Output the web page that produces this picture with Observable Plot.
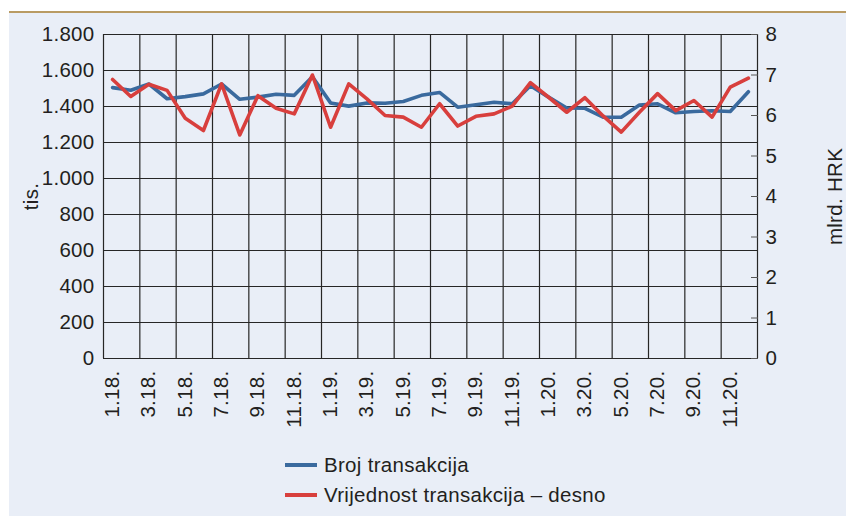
<!DOCTYPE html>
<html>
<head>
<meta charset="utf-8">
<script src="https://cdn.jsdelivr.net/npm/d3@7"></script>
<script src="https://cdn.jsdelivr.net/npm/@observablehq/plot@0.6"></script>
<style>
  html, body { margin: 0; padding: 0; background: #ffffff; }
  body { width: 846px; height: 516px; overflow: hidden; position: relative; font-family: "Liberation Sans", Arial, sans-serif; }
  #box { position: absolute; left: 9px; top: 11px; width: 837px; height: 505px; border-top: 2px solid #b99b63; background: #e9eef7; overflow: hidden; }
  #chart { position: absolute; left: 0; top: 0; }
  #legend { position: absolute; left: 276px; top: 437px; font-size: 20.5px; color: #231f20; letter-spacing: 0.3px; }
  .item { display: flex; align-items: center; height: 30px; }
  .swatch { width: 32px; height: 3.5px; margin-right: 7px; }
</style>
</head>
<body>
<div id="box">
  <div id="chart"></div>
  <div id="legend"></div>
</div>
<script>
const months = [
  "1.18.","2.18.","3.18.","4.18.","5.18.","6.18.","7.18.","8.18.","9.18.","10.18.","11.18.","12.18.",
  "1.19.","2.19.","3.19.","4.19.","5.19.","6.19.","7.19.","8.19.","9.19.","10.19.","11.19.","12.19.",
  "1.20.","2.20.","3.20.","4.20.","5.20.","6.20.","7.20.","8.20.","9.20.","10.20.","11.20.","12.20."
];
// Broj transakcija (tis.) - left axis
const brojTransakcija = [
  1505,1490,1525,1443,1455,1470,1525,1440,1452,1468,1462,1565,
  1420,1402,1420,1418,1428,1462,1478,1396,1410,1424,1415,1515,
  1452,1392,1390,1341,1340,1408,1415,1365,1372,1376,1372,1482
];
// Vrijednost transakcija (mlrd. HRK) - right axis
const vrijednostTransakcija = [
  6.89,6.47,6.77,6.62,5.93,5.63,6.78,5.52,6.49,6.18,6.04,7.00,
  5.71,6.78,6.41,6.00,5.96,5.71,6.29,5.74,5.98,6.04,6.23,6.81,
  6.45,6.08,6.44,5.99,5.59,6.08,6.54,6.12,6.37,5.96,6.70,6.92
];
const leftTicks = [0,200,400,600,800,1000,1200,1400,1600,1800];
const rightTicks = [0,1,2,3,4,5,6,7,8];
const seriesNames = ["Broj transakcija", "Vrijednost transakcija \u2013 desno"];
const seriesColors = ["#3a6a9e", "#d83f3d"];

const leftMax = 1800, rightMax = 8;
const k = leftMax / rightMax;
const rows = months.map((m, i) => ({i, m, broj: brojTransakcija[i], vrij: vrijednostTransakcija[i]}));
const fmtThousands = d => d3.format(",")(d).replace(/,/g, ".");
const gridColor = "#262626";

const chart = Plot.plot({
  width: 837,
  height: 440,
  marginLeft: 94,
  marginRight: 89,
  marginTop: 21,
  marginBottom: 95,
  style: {background: "transparent", fontFamily: "'Liberation Sans', Arial, sans-serif", fontSize: "20.5px", color: "#231f20", letterSpacing: "0.3px", overflow: "visible"},
  x: {domain: [-0.5, months.length - 0.5]},
  y: {domain: [0, leftMax]},
  marks: [
    Plot.gridY(leftTicks, {stroke: gridColor, strokeOpacity: 1, strokeWidth: 1.2}),
    Plot.gridX(d3.range(-0.5, months.length, 2), {stroke: gridColor, strokeOpacity: 1, strokeWidth: 1.2}),
    Plot.axisY(leftTicks, {anchor: "left", tickSize: 0, tickPadding: 9, tickFormat: fmtThousands,
      label: "tis.", labelAnchor: "center", labelOffset: 80, labelArrow: "none"}),
    Plot.axisY(rightTicks, {anchor: "right", y: d => d * k, tickSize: -7, tickPadding: 15, stroke: "#555",
      tickFormat: d => String(d), label: "mlrd. HRK", labelAnchor: "center", labelOffset: 84, labelArrow: "none"}),
    Plot.axisX(d3.range(0, months.length, 2), {anchor: "bottom", tickSize: 0, tickPadding: 12, tickRotate: -90,
      tickFormat: i => months[i], label: null}),
    Plot.line(rows, {x: "i", y: "broj", stroke: seriesColors[0], strokeWidth: 3.6}),
    Plot.line(rows, {x: "i", y: d => d.vrij * k, stroke: seriesColors[1], strokeWidth: 3.6})
  ]
});
document.getElementById("chart").appendChild(chart);

const legend = document.getElementById("legend");
seriesNames.forEach((name, j) => {
  const item = document.createElement("div");
  item.className = "item";
  const sw = document.createElement("div");
  sw.className = "swatch";
  sw.style.background = seriesColors[j];
  const t = document.createElement("span");
  t.textContent = name;
  item.appendChild(sw);
  item.appendChild(t);
  legend.appendChild(item);
});
</script>
</body>
</html>
